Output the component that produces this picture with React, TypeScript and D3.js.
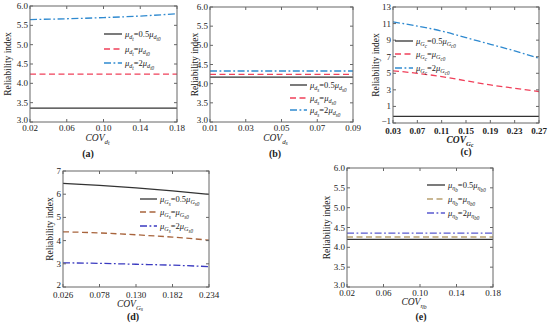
import React from "react";
import * as d3 from "d3";

// ---- data ----
const xA = [0.02, 0.06, 0.1, 0.14, 0.18];
const aHalf = [3.36, 3.36, 3.36, 3.36, 3.36];
const aOne = [4.24, 4.24, 4.24, 4.24, 4.24];
const aTwo = [5.65, 5.67, 5.7, 5.74, 5.8];

const xB = [0.01, 0.03, 0.05, 0.07, 0.09];
const bHalf = [4.17, 4.17, 4.17, 4.17, 4.17];
const bOne = [4.24, 4.24, 4.24, 4.24, 4.24];
const bTwo = [4.33, 4.33, 4.33, 4.33, 4.33];

const xC = [0.03, 0.07, 0.11, 0.15, 0.19, 0.23, 0.27];
const cHalf = [-0.2, -0.2, -0.2, -0.2, -0.2, -0.2, -0.2];
const cOne = [5.3, 5.0, 4.6, 4.1, 3.6, 3.2, 2.8];
const cTwo = [11.2, 10.7, 10.1, 9.3, 8.5, 7.7, 6.8];

const xD = [0.026, 0.078, 0.13, 0.182, 0.234];
const dHalf = [6.47, 6.38, 6.27, 6.14, 5.99];
const dOne = [4.38, 4.33, 4.25, 4.15, 4.02];
const dTwo = [3.04, 3.02, 2.98, 2.94, 2.88];

const xE = [0.02, 0.06, 0.1, 0.14, 0.18];
const eHalf = [4.2, 4.2, 4.2, 4.2, 4.2];
const eOne = [4.26, 4.26, 4.26, 4.26, 4.26];
const eTwo = [4.36, 4.36, 4.36, 4.36, 4.36];

const ticksY3to6 = [3.0, 3.5, 4.0, 4.5, 5.0, 5.5, 6.0];
const ticksYC = [-1, 1, 3, 5, 7, 9, 11, 13];
const ticksYD = [2, 3, 4, 5, 6, 7];

const FONT = "'Liberation Serif', 'DejaVu Serif', serif";

type Seg = { t: string; l: number; i?: boolean };

function MathText({ x, y, segs, size, anchor = "start", weight = "normal" }: any) {
  const shift = [0, size * 0.28, size * 0.45];
  const fs = [size, size * 0.72, size * 0.6];
  let prev = 0;
  return (
    <text x={x} y={y} style={{ fontFamily: FONT }} fontSize={size} textAnchor={anchor} fontWeight={weight} fill="#222">
      {segs.map((s: Seg, k: number) => {
        const dy = shift[s.l] - shift[prev];
        prev = s.l;
        return (
          <tspan key={k} dy={dy} fontSize={fs[s.l]} fontStyle={s.i ? "italic" : "normal"}>
            {s.t}
          </tspan>
        );
      })}
    </text>
  );
}

function legendSegs(sym: string, sub: string, coef: string): Seg[] {
  return [
    { t: "μ", l: 0, i: true },
    { t: sym, l: 1, i: true },
    { t: sub, l: 2, i: true },
    { t: "=" + coef, l: 0 },
    { t: "μ", l: 0, i: true },
    { t: sym, l: 1, i: true },
    { t: sub + "0", l: 2, i: true },
  ];
}

function Panel(p: any) {
  const x = d3.scaleLinear().domain(p.xDomain).range([p.left, p.right]);
  const y = d3.scaleLinear().domain(p.yDomain).range([p.bottom, p.top]);
  const line = d3
    .line<number>()
    .x((_, i) => x(p.xs[i]))
    .y((v) => y(v))
    .curve(d3.curveMonotoneX);
  const series = [
    { v: p.half, c: "#333", dash: "none", coef: "0.5" },
    { v: p.one, c: p.c1, dash: "6,3.5", coef: "" },
    { v: p.two, c: p.c2, dash: "7,2.5,1.8,2.5", coef: "2" },
  ];
  const fc = "#666";
  return (
    <g>
      {series.map((s, k) => (
        <path key={k} d={line(s.v) || ""} fill="none" stroke={s.c} strokeWidth={1.3} strokeDasharray={s.dash} />
      ))}
      <rect x={p.left} y={p.top} width={p.right - p.left} height={p.bottom - p.top} fill="none" stroke={fc} strokeWidth={1} />
      {p.xTicks.map((t: number, k: number) => (
        <g key={"x" + k}>
          <line x1={x(t)} x2={x(t)} y1={p.bottom} y2={p.bottom - 3} stroke={fc} />
          <line x1={x(t)} x2={x(t)} y1={p.top} y2={p.top + 3} stroke={fc} />
          <text x={x(t)} y={p.bottom + p.xLabOff} style={{ fontFamily: FONT }} fontSize={9} fontWeight={p.boldX ? "bold" : "normal"} textAnchor="middle" fill="#222">
            {d3.format(p.xFmt)(t)}
          </text>
        </g>
      ))}
      {p.yTicks.map((t: number, k: number) => (
        <g key={"y" + k}>
          <line x1={p.left} x2={p.left + 3} y1={y(t)} y2={y(t)} stroke={fc} />
          <line x1={p.right} x2={p.right - 3} y1={y(t)} y2={y(t)} stroke={fc} />
          <text x={p.left - 2} y={y(t) + (k === 0 ? 1 : 3)} style={{ fontFamily: FONT }} fontSize={9} textAnchor="end" fill="#222">
            {t < 0 ? "−" + d3.format(p.yFmt)(-t) : d3.format(p.yFmt)(t)}
          </text>
        </g>
      ))}
      <text
        transform={`translate(${p.yLabX},${(p.top + p.bottom) / 2}) rotate(-90)`}
        style={{ fontFamily: FONT }}
        fontSize={9.5}
        textAnchor="middle"
        dominantBaseline="central"
        fill="#222"
      >
        Reliability index
      </text>
      <MathText
        x={(p.left + p.right) / 2 - 6}
        y={p.xTitleY}
        size={9.5}
        weight={p.boldX ? "bold" : "normal"}
        anchor="middle"
        segs={[
          { t: "COV", l: 0, i: true },
          { t: p.sym, l: 1, i: true },
          { t: p.sub, l: 2, i: true },
        ]}
      />
      <text x={p.tagX} y={p.tagY} style={{ fontFamily: FONT }} fontSize={10} fontWeight="bold" textAnchor="middle" fill="#222">
        {p.tag}
      </text>
      {series.map((s, k) => (
        <g key={"lg" + k}>
          <line x1={p.lgX1} x2={p.lgX2} y1={p.lgRows[k]} y2={p.lgRows[k]} stroke={s.c} strokeWidth={1.3} strokeDasharray={s.dash} />
          <MathText x={p.lgX2 + 3} y={p.lgRows[k] + 3} size={8.5} segs={legendSegs(p.sym, p.sub, s.coef)} />
        </g>
      ))}
    </g>
  );
}

export default function App() {
  const red = "#f0405a";
  const blue = "#2f8ad0";
  return (
    <svg width={550} height={327} style={{ position: "absolute", left: 0, top: 0, background: "#fff" }}>
      <Panel
        left={30} right={177} top={6} bottom={122}
        xDomain={[0.02, 0.18]} yDomain={[3, 6]} xTicks={xA} yTicks={ticksY3to6}
        xFmt=".2f" yFmt=".1f" xs={xA} half={aHalf} one={aOne} two={aTwo}
        c1={red} c2={blue} sym="d" sub="t" xLabOff={9} xTitleY={141}
        yLabX={8} tag="(a)" tagX={88} tagY={157}
        lgX1={104} lgX2={122} lgRows={[34, 49, 63]}
      />
      <Panel
        left={210} right={353} top={7} bottom={122}
        xDomain={[0.01, 0.09]} yDomain={[3, 6]} xTicks={xB} yTicks={ticksY3to6}
        xFmt=".2f" yFmt=".1f" xs={xB} half={bHalf} one={bOne} two={bTwo}
        c1={red} c2={blue} sym="d" sub="s" xLabOff={9} xTitleY={141}
        yLabX={195} tag="(b)" tagX={275} tagY={157}
        lgX1={290} lgX2={307} lgRows={[85, 98, 110]}
      />
      <Panel
        left={393} right={539} top={7} bottom={123}
        xDomain={[0.03, 0.27]} yDomain={[-1, 13]} xTicks={xC} yTicks={ticksYC}
        xFmt=".2f" yFmt="d" xs={xC} half={cHalf} one={cOne} two={cTwo}
        c1={red} c2={blue} sym="G" sub="c" xLabOff={11} xTitleY={143} boldX
        yLabX={376} tag="(c)" tagX={466} tagY={155}
        lgX1={395} lgX2={413} lgRows={[41, 54, 68]}
      />
      <Panel
        left={63} right={209} top={171} bottom={287}
        xDomain={[0.026, 0.234]} yDomain={[2, 7]} xTicks={xD} yTicks={ticksYD}
        xFmt=".3f" yFmt="d" xs={xD} half={dHalf} one={dOne} two={dTwo}
        c1="#a8643c" c2="#3a3ac0" sym="G" sub="s" xLabOff={11} xTitleY={307}
        yLabX={50} tag="(d)" tagX={133} tagY={320}
        lgX1={140} lgX2={157} lgRows={[199, 212, 226]}
      />
      <Panel
        left={347} right={493} top={168} bottom={287}
        xDomain={[0.02, 0.18]} yDomain={[3, 6]} xTicks={xE} yTicks={ticksY3to6}
        xFmt=".2f" yFmt=".1f" xs={xE} half={eHalf} one={eOne} two={eTwo}
        c1="#b8a070" c2="#5a5ad0" sym="η" sub="b" xLabOff={9} xTitleY={305}
        yLabX={327} tag="(e)" tagX={421} tagY={320}
        lgX1={427} lgX2={445} lgRows={[185, 199, 213]}
      />
    </svg>
  );
}
